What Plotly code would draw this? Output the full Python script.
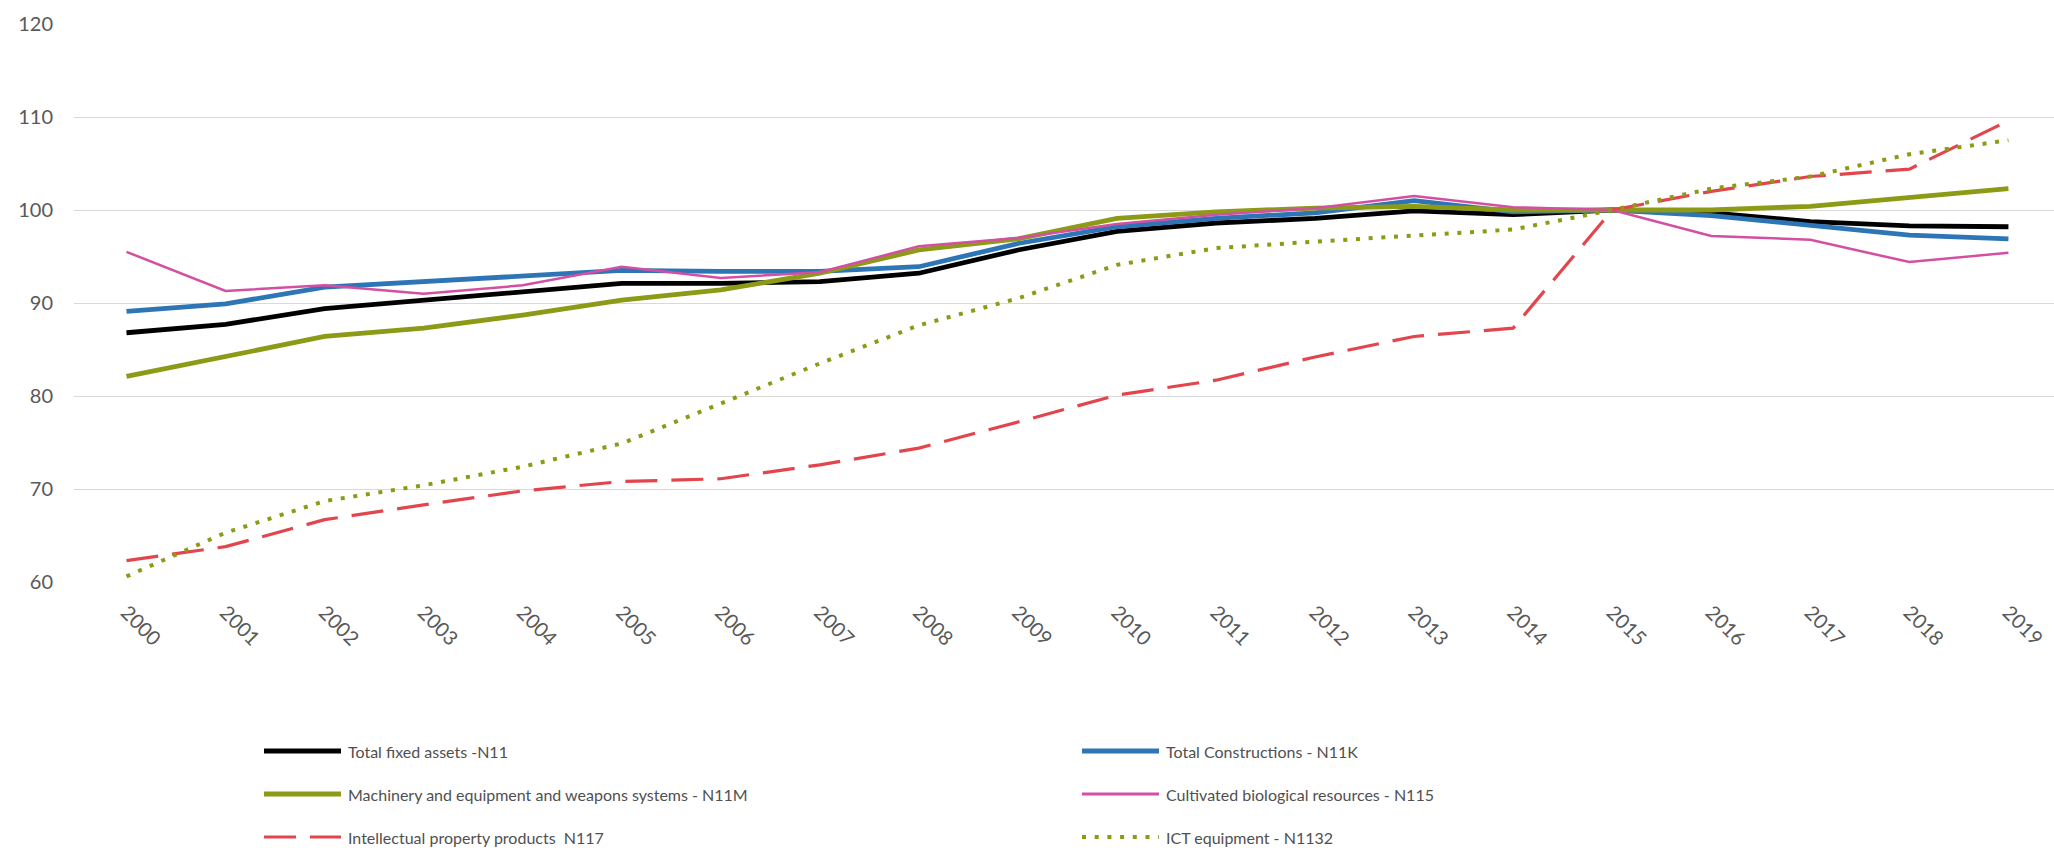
import plotly.graph_objects as go

# Category labels (years) and volume indices (2015 = 100)
years = ["2000", "2001", "2002", "2003", "2004", "2005", "2006", "2007", "2008", "2009",
         "2010", "2011", "2012", "2013", "2014", "2015", "2016", "2017", "2018", "2019"]

total_fixed_assets = [86.8, 87.7, 89.4, 90.3, 91.2, 92.1, 92.1, 92.3, 93.2, 95.7,
                      97.7, 98.6, 99.1, 99.9, 99.5, 100.0, 99.7, 98.75, 98.3, 98.2]
total_constructions = [89.1, 89.9, 91.7, 92.3, 92.9, 93.5, 93.4, 93.4, 93.9, 96.4,
                       98.2, 99.1, 99.7, 101.0, 99.8, 100.0, 99.4, 98.3, 97.3, 96.9]
machinery = [82.1, 84.2, 86.4, 87.3, 88.7, 90.3, 91.4, 93.2, 95.7, 96.9,
             99.1, 99.8, 100.2, 100.4, 100.0, 100.0, 100.0, 100.4, 101.4, 102.3]
cultivated = [95.5, 91.3, 91.9, 91.0, 91.9, 93.9, 92.7, 93.3, 96.1, 97.0,
              98.5, 99.5, 100.2, 101.5, 100.3, 100.0, 97.2, 96.8, 94.4, 95.4]
intellectual = [62.3, 63.8, 66.7, 68.3, 69.8, 70.8, 71.1, 72.6, 74.4, 77.2,
                80.1, 81.7, 84.2, 86.4, 87.3, 100.0, 102.0, 103.6, 104.4, 109.6]
ict_equipment = [60.6, 65.3, 68.7, 70.4, 72.4, 74.9, 79.2, 83.5, 87.6, 90.5,
                 94.1, 95.9, 96.6, 97.3, 97.9, 100.0, 102.3, 103.6, 106.0, 107.5]

y_ticks = [60, 70, 80, 90, 100, 110, 120]

series = [
    ("Total fixed assets -N11", total_fixed_assets, "#000000", 4.8, "solid"),
    ("Total Constructions - N11K", total_constructions, "#2E75B6", 4.8, "solid"),
    ("Machinery and equipment and weapons systems - N11M", machinery, "#8C9A16", 4.8, "solid"),
    ("Cultivated biological resources - N115", cultivated, "#D34FA2", 2.5, "solid"),
    ("Intellectual property products  N117", intellectual, "#E2454C", 3.2, "32px,14px"),
    ("ICT equipment - N1132", ict_equipment, "#8C9A16", 4, "4px,8.7px"),
]

GRAY = "#595959"
TICK_FONT = dict(family="Lato, Liberation Sans, Arial, sans-serif", size=20, color=GRAY)
LEGEND_FONT = dict(family="Lato, Liberation Sans, Arial, sans-serif", size=16, color="#505050")

W, H = 2054, 850
PLOT_L, PLOT_R, PLOT_T, PLOT_B = 74, 0, 24, 268
PLOT_W = W - PLOT_L - PLOT_R
PLOT_H = H - PLOT_T - PLOT_B

fig = go.Figure()
for name, values, color, width, dash in series:
    fig.add_trace(go.Scatter(
        x=list(range(len(years))), y=values, name=name, mode="lines",
        line=dict(color=color, width=width, dash=dash),
        hovertemplate="%{text}: %{y}<extra>" + name + "</extra>",
        text=years,
    ))


def paper_x(px):
    return (px - PLOT_L) / PLOT_W


def paper_y(py):
    return 1 - (py - PLOT_T) / PLOT_H


# Two-column legend below the chart
legend_cols = [264, 1082]
legend_rows = [751, 794, 837]
swatch_len = 77
shapes = []
annotations = []
for i, (name, _, color, width, dash) in enumerate(series):
    cx = legend_cols[i % 2]
    cy = legend_rows[i // 2]
    shapes.append(dict(
        type="line", xref="paper", yref="paper",
        x0=paper_x(cx), x1=paper_x(cx + swatch_len),
        y0=paper_y(cy), y1=paper_y(cy),
        line=dict(color=color, width=width if width > 3 else 3.2, dash=dash),
    ))
    annotations.append(dict(
        xref="paper", yref="paper", x=paper_x(cx + swatch_len + 5), y=paper_y(cy),
        xanchor="left", yanchor="middle", text=name, showarrow=False,
        font=LEGEND_FONT,
    ))

fig.update_layout(
    width=W, height=H,
    margin=dict(l=PLOT_L, r=PLOT_R, t=PLOT_T, b=PLOT_B, pad=0),
    paper_bgcolor="white", plot_bgcolor="white",
    showlegend=False,
    shapes=shapes, annotations=annotations,
    xaxis=dict(
        range=[-0.53, 19.46], tickmode="array",
        tickvals=list(range(len(years))), ticktext=years,
        tickangle=45, tickfont=TICK_FONT, showgrid=False, zeroline=False,
        showline=False, ticks="", ticklabelstandoff=14,
    ),
    yaxis=dict(
        range=[60, 120], tickvals=y_ticks, tickfont=TICK_FONT,
        showgrid=True, gridcolor="#D9D9D9", gridwidth=1.3, zeroline=False,
        showline=False, ticks="", ticklabelstandoff=20,
    ),
)

fig.write_html("out.html")
